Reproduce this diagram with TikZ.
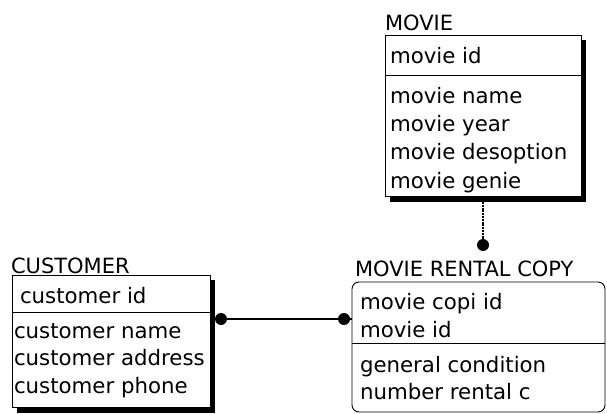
\documentclass[tikz,border=0pt]{standalone}
\usepackage{fontspec}
\setmainfont{DejaVu Sans}
\begin{document}
\begin{tikzpicture}[x=1pt,y=-1pt,
  every node/.style={inner sep=0pt, outer sep=0pt},
  fld/.style={anchor=base west, font=\fontsize{21.3}{24}\selectfont},
  ttl/.style={anchor=base west, font=\fontsize{21}{24}\selectfont},
  entbox/.style={draw=black, line width=0.9pt, fill=white, anchor=north west},
  shade/.style={fill=black},
  rel/.style={line width=1.6pt},
  dotrel/.style={line width=2.6pt, dash pattern=on 2pt off 0.8pt},
  blob/.style={circle, fill=black, minimum size=12pt}
]
\useasboundingbox (0,0) rectangle (607,414);

% ---------- MOVIE ----------
\fill[shade] (390,40) rectangle (586,202);
\node[entbox, minimum width=196pt, minimum height=161pt] (movie) at (385,35) {};
\draw[line width=1pt] (385,76) -- (581,76);
\node[ttl] (movieT) at (385,31) {MOVIE};
\node[fld] (m1) at (390,64) {movie id};
\node[fld] (m2) at (390,104) {movie name};
\node[fld] (m3) at (390,132) {movie year};
\node[fld] (m4) at (390,160) {movie desoption};
\node[fld] (m5) at (390,188) {movie genie};

% ---------- CUSTOMER ----------
\fill[shade] (17,280) rectangle (215,413);
\node[entbox, minimum width=198pt, minimum height=132pt] (customer) at (12,275) {};
\draw[line width=1pt] (12,312) -- (210,312);
\node[ttl] (custT) at (11,273) {CUSTOMER};
\node[fld] (c1) at (20,303) {customer id};
\node[fld] (c2) at (14,338) {customer name};
\node[fld] (c3) at (14,365) {customer address};
\node[fld] (c4) at (14,393) {customer phone};

% ---------- MOVIE RENTAL COPY ----------
\node[entbox, rounded corners=7pt, minimum width=253pt, minimum height=130pt] (rental) at (352,282) {};
\draw[line width=1pt] (352,343) -- (605,343);
\node[ttl] (rentT) at (355,276) {MOVIE RENTAL COPY};
\node[fld] (r1) at (360,309) {movie copi id};
\node[fld] (r2) at (360,337) {movie id};
\node[fld] (r3) at (360,372) {general condition};
\node[fld] (r4) at (360,399) {number rental c};

% ---------- relationships ----------
\coordinate (mEnd) at (483,245);
\draw[dotrel] (movie.south) ++(0,6) -- (mEnd);
\node[blob] (mDot) at (mEnd) {};

\coordinate (cEnd) at (221,319);
\coordinate (rEnd) at (344,319);
\draw[rel] (customer.east |- cEnd) -- (rental.west |- rEnd);
\node[blob] (cDot) at (cEnd) {};
\node[blob] (rDot) at (rEnd) {};
\end{tikzpicture}
\end{document}
